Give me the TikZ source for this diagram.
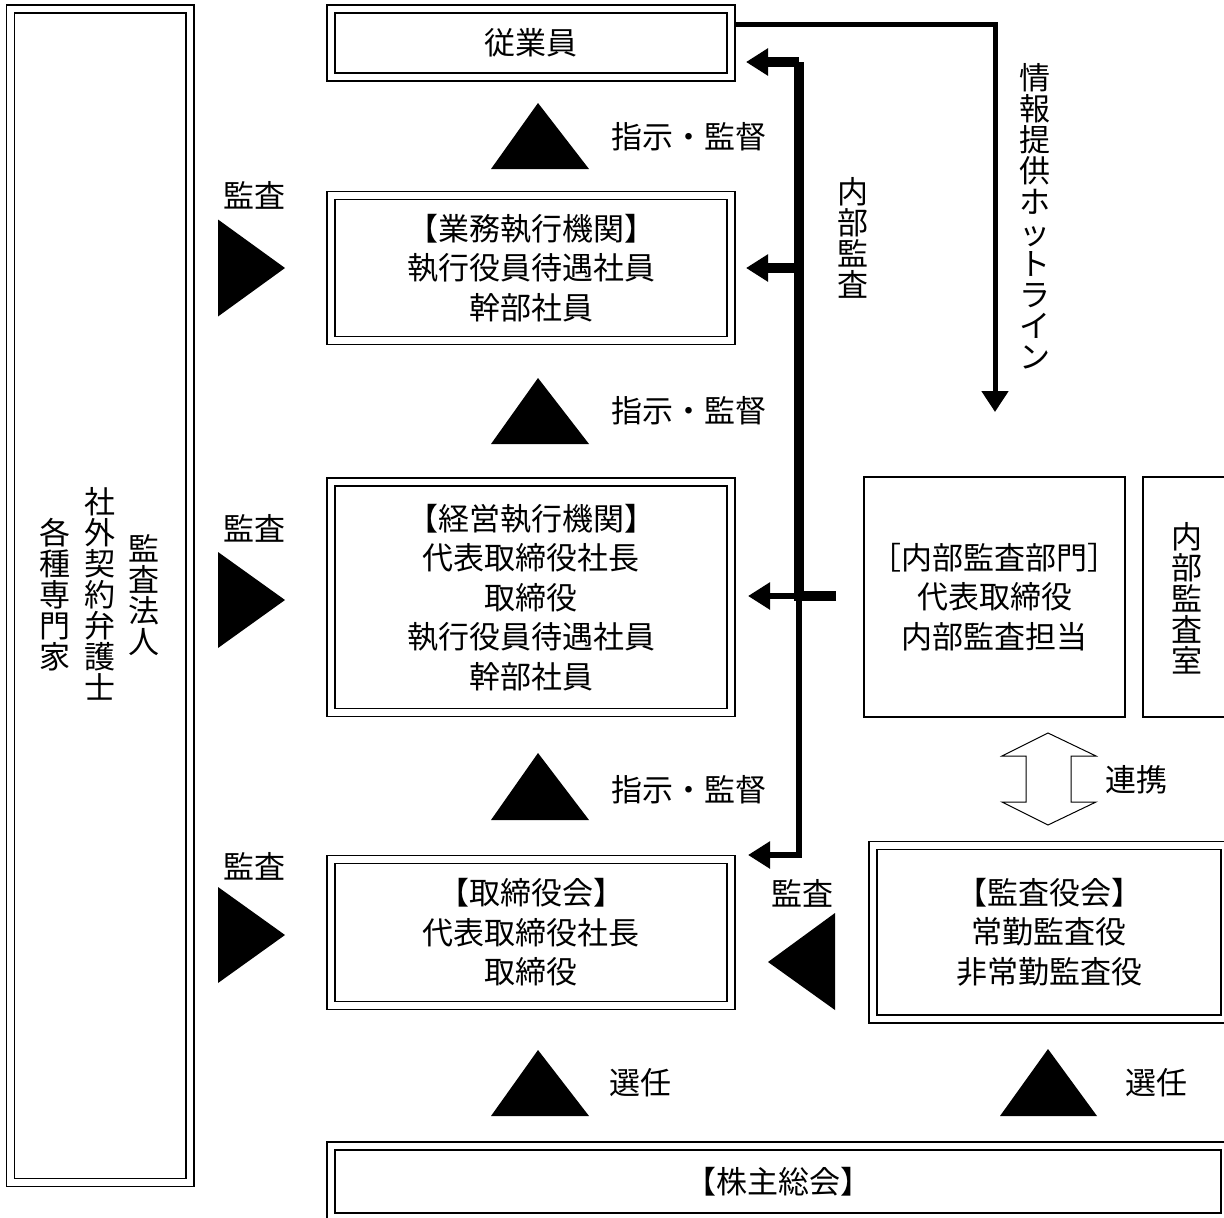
\documentclass[tikz,border=0pt]{standalone}
\usepackage{fontspec}
\newfontfamily\cjk{Noto Sans CJK JP}
\usetikzlibrary{arrows.meta}
\newcommand\myvsetup{\cjk\fontsize{31pt}{31pt}\selectfont\lineskiplimit -50pt\relax}
\newcommand\myhsetup{\cjk\fontsize{31pt}{39.5pt}\selectfont}
\tikzset{
  jpfont/.style={font=\myhsetup},
  vfont/.style={font=\myvsetup},
  lbl/.style={jpfont, inner sep=0pt, align=center},
  vlbl/.style={vfont, inner sep=0pt, align=center},
  dbox/.style={draw, double, line width=1.2pt, double distance=6.8pt, outer sep=0pt, inner sep=0pt, align=center, jpfont},
  sbox/.style={draw, line width=1.3pt, outer sep=0pt, inner sep=0pt, align=center, jpfont},
  tri/.style={fill=black, draw=none},
  busthick/.style={line width=10pt},
  busthin/.style={line width=6pt},
  tipA/.style={-{Triangle[length=22pt,width=26pt]}},
  hotline/.style={line width=5pt, -{Triangle[length=21pt,width=26pt]}},
  hollow/.style={draw, line width=1pt, fill=white, line join=miter}
}
\begin{document}
\begin{tikzpicture}[x=1pt,y=-1pt]
\useasboundingbox[fill=white] (0,0) rectangle (1224,1218);

% boxes
\node[dbox, minimum width=179.5pt, minimum height=1173.5pt] (gaibu) at (100.25,595.75) {};
\node[vlbl] (g1) at (144,595) {監\\査\\法\\人};
\node[vlbl] (g2) at (100,594) {社\\外\\契\\約\\弁\\護\\士};
\node[vlbl] (g3) at (55,595) {各\\種\\専\\門\\家};

\node[dbox, minimum width=400pt, minimum height=68pt] (jug) at (531,43) {従業員};
\node[dbox, minimum width=400pt, minimum height=145pt] (gyomu) at (531,268) {【業務執行機関】\\執行役員待遇社員\\幹部社員};
\node[dbox, minimum width=400pt, minimum height=230.5pt] (keiei) at (531,597.25) {【経営執行機関】\\代表取締役社長\\取締役\\執行役員待遇社員\\幹部社員};
\node[dbox, minimum width=400pt, minimum height=146pt] (tori) at (531,932.5) {【取締役会】\\代表取締役社長\\取締役};
\node[dbox, minimum width=352pt, minimum height=173.5pt] (kansa) at (1049,932.25) {【監査役会】\\常勤監査役\\非常勤監査役};
\node[dbox, minimum width=894pt, minimum height=71pt] (kabu) at (778,1181.5) {【株主総会】};
\node[sbox, minimum width=261pt, minimum height=240pt] (naibu) at (994.5,597) {［内部監査部門］\\代表取締役\\内部監査担当};
\node[sbox, minimum width=88pt, minimum height=240pt] (shitsu) at (1187,597) {};
\node[vlbl] (shitsut) at (1187,598) {内\\部\\監\\査\\室};

% up triangles with labels
\fill[tri] (538,103) -- (589,169) -- (491,169) -- cycle;
\node[lbl] (l1) at (689,137) {指示・監督};
\fill[tri] (538,378) -- (589,444) -- (491,444) -- cycle;
\node[lbl] (l2) at (689,411) {指示・監督};
\fill[tri] (538,753) -- (589,820) -- (491,820) -- cycle;
\node[lbl] (l3) at (689,790) {指示・監督};
\fill[tri] (538,1050) -- (589,1116) -- (491,1116) -- cycle;
\node[lbl] (s1) at (640,1083) {選任};
\fill[tri] (1048,1049) -- (1097,1116) -- (1000,1116) -- cycle;
\node[lbl] (s2) at (1156,1083) {選任};

% right-pointing audit triangles
\fill[tri] (218,219.5) -- (285,268) -- (218,316.5) -- cycle;
\node[lbl] (k1) at (254,195) {監査};
\fill[tri] (218,552) -- (285,600) -- (218,648) -- cycle;
\node[lbl] (k2) at (254,528) {監査};
\fill[tri] (218,887) -- (285,935) -- (218,983) -- cycle;
\node[lbl] (k3) at (254,866) {監査};

% left-pointing audit triangle
\fill[tri] (835,913) -- (768,962) -- (835,1010) -- cycle;
\node[lbl] (k4) at (802,893) {監査};

% collaboration double arrow
\draw[hollow] (1048,733) -- (1096,756) -- (1071,756) -- (1071,802) -- (1096,802) -- (1048,825) -- (1002,802) -- (1026,802) -- (1026,756) -- (1002,756) -- cycle;
\node[lbl] (renkei) at (1136,780) {連携};

% internal audit bus
\coordinate (bt) at (799,62);
\coordinate (bm) at (799,268);
\coordinate (bj) at (799,596);
\coordinate (bb) at (799,855);
\draw[busthick] ([xshift=-28pt]bj -| naibu.west) -- (bj) -- (bt);
\draw[busthick, tipA] (bt) -- ([xshift=15pt]bt -| jug.east);
\draw[busthick, tipA] (bm) -- ([xshift=15pt]bm -| gyomu.east);
\draw[busthin, tipA] (bj) -- ([xshift=17pt]bj -| keiei.east);
\draw[busthin, tipA] ([yshift=-3pt]bj) -- (bb) -- ([xshift=17pt]bb -| tori.east);
\node[vlbl] (naibuk) at (853,238) {内\\部\\監\\査};

% hotline
\coordinate (ht) at (995,24);
\coordinate (hb) at (995,412);
\draw[hotline] ([xshift=4pt]ht -| jug.east) -- (ht) -- (hb);
\node[vlbl] (hotl) at (1035,216) {情\\報\\提\\供\\ホ\\ッ\\ト\\ラ\\イ\\ン};
\end{tikzpicture}
\end{document}
